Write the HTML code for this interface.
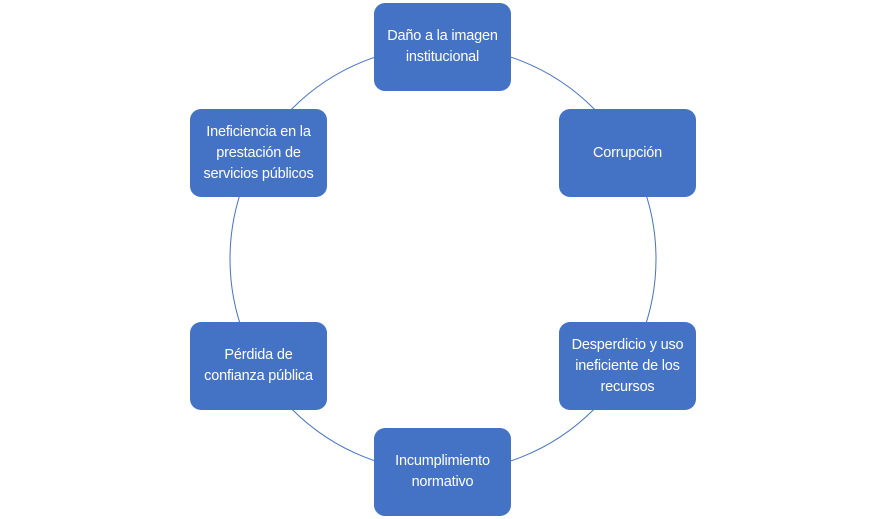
<!DOCTYPE html>
<html><head><meta charset="utf-8"><style>
body{margin:0;width:886px;height:519px;background:#fff;position:relative;overflow:hidden;font-family:"Liberation Sans",sans-serif}
.b{position:absolute;width:137px;height:88px;background:#4472C4;border-radius:11px;color:#fff;font-size:14.5px;line-height:21px;display:flex;align-items:center;justify-content:center;text-align:center;box-sizing:border-box;padding:0 2px;white-space:nowrap;letter-spacing:-0.2px}
svg{position:absolute;left:0;top:0}
</style></head><body>
<svg width="886" height="519"><circle cx="443" cy="259" r="213" fill="none" stroke="#4472C4" stroke-width="1"/></svg>
<div class="b" style="left:374px;top:3px">Daño a la imagen<br>institucional</div>
<div class="b" style="left:559px;top:109px">Corrupción</div>
<div class="b" style="left:559px;top:322px">Desperdicio y uso<br>ineficiente de los<br>recursos</div>
<div class="b" style="left:374px;top:428px">Incumplimiento<br>normativo</div>
<div class="b" style="left:190px;top:322px">Pérdida de<br>confianza pública</div>
<div class="b" style="left:190px;top:109px">Ineficiencia en la<br>prestación de<br>servicios públicos</div>
</body></html>
